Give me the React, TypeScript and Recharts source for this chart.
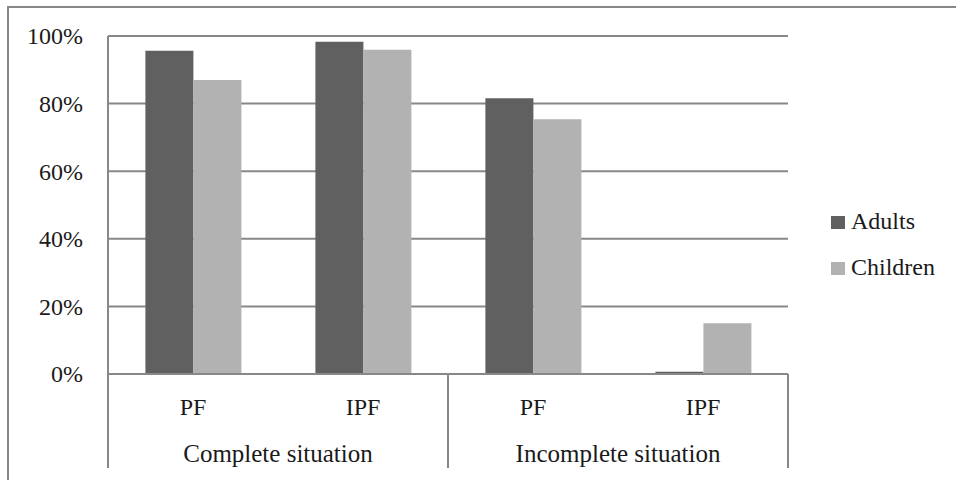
import React from 'react';
import { BarChart, Bar, XAxis, YAxis, CartesianGrid, Legend } from 'recharts';

const groups = ['Complete situation', 'Complete situation', 'Incomplete situation', 'Incomplete situation'];
const subCategories = ['PF', 'IPF', 'PF', 'IPF'];
const adults = [0.956, 0.983, 0.816, 0.007];
const children = [0.87, 0.959, 0.754, 0.15];
const yTicks = [0, 0.2, 0.4, 0.6, 0.8, 1];
const seriesNames = ['Adults', 'Children'];
const seriesColors = ['#606060', '#b2b2b2'];

const data = subCategories.map((s, i) => ({
  sub: s,
  group: groups[i],
  [seriesNames[0]]: adults[i],
  [seriesNames[1]]: children[i],
}));

const FONT = "'Liberation Serif'";
const TEXT_COLOR = '#1a1a1a';
const LINE_COLOR = '#888888';

const halfBand = (props: any) => {
  const off = props.payload && typeof props.payload.offset === 'number' ? props.payload.offset : undefined;
  if (off && off > 0) return off;
  return props.width / (2 * data.length);
};

const SubTick = (props: any) => {
  const { x, y, payload } = props;
  const i = payload.index ?? props.index;
  const off = halfBand(props);
  const isFirst = i === 0 || groups[i] !== groups[i - 1];
  const isLast = i === groups.length - 1 || groups[i] !== groups[i + 1];
  return (
    <g>
      <text x={x} y={y + 41} textAnchor="middle" fontFamily={FONT} style={{ fontFamily: FONT }} fontSize={24} fill={TEXT_COLOR}>
        {payload.value}
      </text>
      {isFirst && <line x1={x - off} x2={x - off} y1={y} y2={y + 94} stroke={LINE_COLOR} strokeWidth={2} />}
      {isLast && <line x1={x + off} x2={x + off} y1={y} y2={y + 94} stroke={LINE_COLOR} strokeWidth={2} />}
    </g>
  );
};

const GroupTick = (props: any) => {
  const { x, y, payload } = props;
  const i = payload.index ?? props.index;
  const isFirst = i === 0 || groups[i] !== groups[i - 1];
  if (!isFirst) return <g />;
  let n = 1;
  while (i + n < groups.length && groups[i + n] === groups[i]) n++;
  const off = halfBand(props);
  const cx = x + (n - 1) * off;
  return (
    <text x={cx} y={y + 36} textAnchor="middle" fontFamily={FONT} style={{ fontFamily: FONT }} fontSize={25} fill={TEXT_COLOR}>
      {payload.value}
    </text>
  );
};

const YTick = (props: any) => {
  const { x, y, payload } = props;
  return (
    <text x={x} y={y} dy="0.35em" textAnchor="end" fontFamily={FONT} style={{ fontFamily: FONT }} fontSize={24} fill={TEXT_COLOR}>
      {`${Math.round(payload.value * 100)}%`}
    </text>
  );
};

const LegendContent = (props: any) => {
  const items = props.payload || [];
  return (
    <div style={{ fontFamily: FONT, fontSize: 24, color: TEXT_COLOR }}>
      {items.map((it: any) => (
        <div key={it.value} style={{ display: 'flex', alignItems: 'center', height: 46 }}>
          <div style={{ width: 14, height: 13, background: it.color, marginRight: 6 }} />
          <span style={{ fontFamily: FONT, lineHeight: '24px', position: 'relative', top: -1 }}>{it.value}</span>
        </div>
      ))}
    </div>
  );
};

export default function App() {
  return (
    <div style={{ position: 'absolute', left: 0, top: 0, width: 956, height: 480, overflow: 'hidden', background: '#fff', fontFamily: FONT }}>
      <div
        style={{
          position: 'absolute',
          left: 7,
          top: 6,
          width: 1000,
          height: 520,
          border: `2px solid ${LINE_COLOR}`,
          boxSizing: 'border-box',
        }}
      />
      <div style={{ position: 'absolute', left: 0, top: 0 }}>
        <BarChart
          width={956}
          height={480}
          data={data}
          margin={{ top: 36, right: 168, left: 0, bottom: 0 }}
          barGap={0}
          barCategoryGap="22%"
        >
          <CartesianGrid vertical={false} stroke={LINE_COLOR} strokeWidth={2} />
          <YAxis
            width={108}
            domain={[0, 1]}
            ticks={yTicks}
            interval={0}
            axisLine={{ stroke: LINE_COLOR, strokeWidth: 2 }}
            tickLine={false}
            tickSize={0}
            tickMargin={25}
            tick={<YTick />}
          />
          <XAxis
            xAxisId={0}
            dataKey="sub"
            height={52}
            interval={0}
            axisLine={{ stroke: LINE_COLOR, strokeWidth: 2 }}
            tickLine={false}
            tickSize={0}
            tickMargin={0}
            tick={<SubTick />}
          />
          <XAxis
            xAxisId={1}
            dataKey="group"
            height={54}
            interval={0}
            axisLine={false}
            tickLine={false}
            tickSize={0}
            tickMargin={0}
            tick={<GroupTick />}
          />
          <Legend
            layout="vertical"
            align="center"
            verticalAlign="middle"
            content={<LegendContent />}
            wrapperStyle={{ left: 831, top: 199, width: 'auto' }}
          />
          {seriesNames.map((name, k) => (
            <Bar key={name} xAxisId={0} dataKey={name} fill={seriesColors[k]} isAnimationActive={false} />
          ))}
        </BarChart>
      </div>
    </div>
  );
}
